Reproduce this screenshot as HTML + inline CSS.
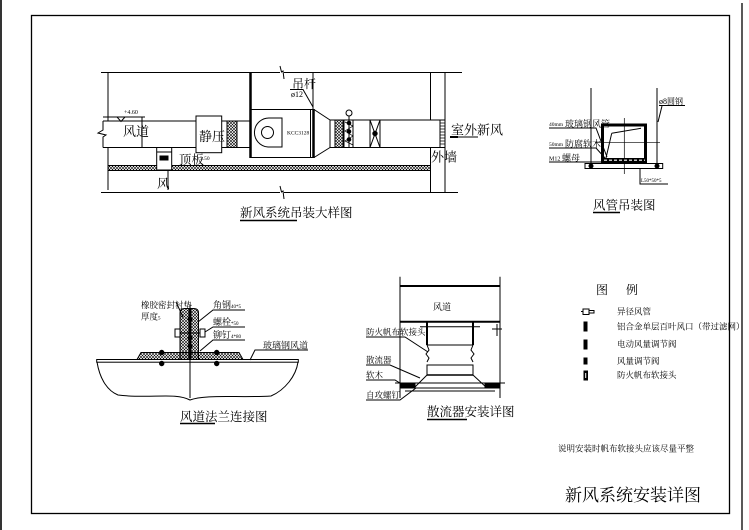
<!DOCTYPE html>
<html><head><meta charset="utf-8"><style>
html,body{margin:0;padding:0;background:#fff;}
svg{display:block;}
text{font-family:"Liberation Serif","Noto Serif CJK SC",serif;fill:#000;stroke:none;}
</style></head><body>
<svg width="749" height="530" viewBox="0 0 749 530" xmlns="http://www.w3.org/2000/svg">
<defs>
<pattern id="hx" width="3" height="3" patternUnits="userSpaceOnUse">
<path d="M0,0L3,3M3,0L0,3" stroke="#000" stroke-width="0.6"/>
</pattern>
</defs>
<rect x="0" y="0" width="749" height="530" fill="#fff"/>
<g stroke="#000" fill="none" stroke-width="1">
<!-- borders -->
<line x1="1" y1="0" x2="1" y2="530" stroke-width="1.6"/>
<rect x="31.5" y="15.5" width="698" height="498" stroke-width="1.3"/>
<line x1="742" y1="3" x2="742" y2="530" stroke-width="1.3"/>

<!-- ===== top-left: 新风系统吊装大样图 ===== -->
<path d="M101,72.5 H280 M284,72.5 H462"/>
<path d="M280,66 L281.5,72 L283,71 L284,79"/>
<path d="M101,192.5 H280 M284,192.5 H458"/>
<path d="M280,186 L281.5,192 L283,191 L284,199"/>
<path d="M108,72.5 V121 M108,147.5 V190"/>
<!-- left duct -->
<path d="M103,121 H196 M103,147.5 H196"/>
<path d="M103,121 V130 L98,133 L106,135 L103,137 V147.5"/>
<path d="M103,117 H145"/>
<polygon points="117,117 125,117 121,121.5" />
<line x1="142" y1="117" x2="142" y2="148"/>
<!-- static pressure box -->
<rect x="196" y="116" width="25.7" height="36.7"/>
<path d="M221.7,121 H250 M221.7,147.5 H250"/>
<rect x="227" y="121" width="10" height="26.5" fill="url(#hx)"/>
<line x1="250.5" y1="72.5" x2="250.5" y2="158" stroke-width="2.5"/>
<!-- fan box -->
<rect x="250.5" y="109.5" width="63" height="48"/>
<line x1="313" y1="72.5" x2="313" y2="109.5"/>
<line x1="313.5" y1="109" x2="313.5" y2="158" stroke-width="2.5"/>
<line x1="310.5" y1="109.5" x2="310.5" y2="157.5"/>
<path d="M282,118 V147 H268 A14.5,14.5 0 1 1 270,118 Z"/>
<circle cx="267.5" cy="132.5" r="6"/>
<!-- taper and right duct -->
<path d="M314,109.5 L330,120 M314,157.5 L330,147.5 M330,120 V147.5"/>
<path d="M330,120 H440 M330,147.5 H440"/>
<rect x="335" y="120" width="8" height="27.5" fill="url(#hx)"/>
<path d="M344,120 V147.5 M353,120 V147.5"/>
<path d="M349,120 V147.5"/>
<path d="M345,122 L353,126 L345,131 L353,136 L345,141 L353,145" stroke-width="0.7"/>
<circle cx="349" cy="123" r="1.8" fill="#000"/>
<circle cx="349" cy="131.5" r="1.8" fill="#000"/>
<circle cx="349" cy="139.5" r="1.8" fill="#000"/>
<circle cx="349" cy="113" r="3"/>
<line x1="349" y1="116" x2="349" y2="120"/>
<path d="M370,120 V147.5 M380,120 V147.5 M370,120 L380,147.5 M380,120 L370,147.5"/>
<circle cx="375" cy="133.5" r="2.2" fill="#000"/>
<!-- wall + grille -->
<path d="M430.5,72.5 V120 M430.5,147.5 V192.5"/>
<line x1="445" y1="72.5" x2="445" y2="192.5"/>
<rect x="440" y="120" width="5" height="27.5"/>
<path d="M440,123 H445 M440,126 H445 M440,129 H445 M440,132 H445 M440,135 H445 M440,138 H445 M440,141 H445 M440,144 H445" stroke-width="0.8"/>
<!-- slab -->
<rect x="108" y="165.5" width="322.5" height="5" fill="url(#hx)"/>
<!-- outlet -->
<rect x="156.7" y="147.5" width="15" height="22.5" fill="#fff"/>
<line x1="156.7" y1="152" x2="171.7" y2="152"/>
<rect x="160" y="156" width="8" height="4" fill="#000"/>
<line x1="168" y1="171" x2="168" y2="190"/>
<!-- hanger leader -->
<path d="M290,89.5 H303 L313,107"/>
<path d="M450,137 H478"/>
<line x1="450" y1="137" x2="458" y2="137" stroke-width="2"/>
<!-- title underline -->
<line x1="240" y1="220.5" x2="297" y2="220.5" stroke-width="1.5"/>

<!-- ===== top-right: 风管吊装图 ===== -->
<path d="M591,88 V167 M657,88 V167"/>
<rect x="585" y="163.5" width="77.7" height="5"/>
<circle cx="591" cy="166" r="2" fill="#000"/>
<circle cx="657" cy="166" r="2" fill="#000"/>
<line x1="595" y1="142.7" x2="660" y2="142.7" stroke-width="0.7"/>
<line x1="624.3" y1="118" x2="624.3" y2="174" stroke-width="0.7"/>
<rect x="602.5" y="125" width="43" height="37" stroke-width="3"/>
<rect x="602" y="158" width="44" height="4.5" fill="#000" stroke="none"/>
<line x1="604" y1="160.2" x2="645" y2="160.2" stroke="#fff" stroke-width="1.2" stroke-dasharray="3 2"/>
<path d="M611.7,133.3 L641,128.3 M611.7,133.3 L606,158"/>
<path d="M549,128 H596 L607,157"/>
<path d="M549,148 H596 L605,158"/>
<path d="M549,162 H602"/>
<path d="M659,105.5 H685 M662,106 L658,122"/>
<path d="M640,168 V184 H668"/>
<line x1="593" y1="212.5" x2="620" y2="212.5" stroke-width="1.5"/>

<!-- ===== bottom-left: 风道法兰连接图 ===== -->
<path d="M97,362 C100,380 108,391 118,395 C150,399 175,392 190,400 C205,394 240,398 271,396 C285,390 296,376 298,362"/>
<path d="M137,359.5 L141,352.5 H239 L243,359.5 Z" fill="url(#hx)"/>
<path d="M180,359.5 V313 Q180,308.5 184.5,308.5 H189 V359.5 Z" fill="url(#hx)"/>
<path d="M191,359.5 V308.5 H194 Q198.5,308.5 198.5,313 V359.5 Z" fill="url(#hx)"/>
<rect x="96.7" y="359.5" width="201.6" height="2.7" fill="#fff"/>
<line x1="190" y1="305" x2="190" y2="398"/>
<circle cx="190" cy="319" r="2" fill="#000"/>
<circle cx="190" cy="338" r="2" fill="#000"/>
<circle cx="190" cy="346" r="2" fill="#000"/>
<line x1="175" y1="333" x2="205" y2="333"/>
<rect x="175" y="329" width="5" height="8" fill="#fff"/>
<rect x="200" y="329" width="5" height="8" fill="#fff"/>
<circle cx="161.7" cy="352.5" r="2.2" fill="#000"/>
<circle cx="161.7" cy="363.5" r="2.2" fill="#000"/>
<circle cx="216.7" cy="352.5" r="2.2" fill="#000"/>
<circle cx="216.7" cy="363.5" r="2.2" fill="#000"/>
<path d="M176,302 L183,317"/>
<path d="M245,310 H213 L198,322"/>
<path d="M245,327 H213 L205,332"/>
<path d="M245,340 H213 L200,351"/>
<path d="M308,350 H255 L250,360"/>
<line x1="180" y1="423.5" x2="215" y2="423.5" stroke-width="1.5"/>

<!-- ===== bottom-middle: 散流器安装详图 ===== -->
<path d="M400,276.7 V398 M500,276.7 V398"/>
<line x1="400" y1="286" x2="500" y2="286" stroke-width="2"/>
<line x1="400" y1="321.7" x2="500" y2="321.7" stroke-width="2"/>
<path d="M427,322 V345 M473,322 V345" stroke-width="2"/>
<line x1="420" y1="326.7" x2="480" y2="326.7"/>
<line x1="427" y1="345" x2="473" y2="345"/>
<path d="M427,345 L429,350 L426,354 L429,358 L427,362"/>
<path d="M473,345 L471,350 L474,354 L471,358 L473,362"/>
<rect x="427" y="365" width="46" height="10"/>
<line x1="427" y1="375" x2="473" y2="375" stroke-width="1.5"/>
<path d="M427,375 L414,388 H487 L473,375"/>
<path d="M405,388 H495 M405,391 H495"/>
<line x1="395" y1="383" x2="505" y2="383"/>
<rect x="400" y="383" width="15" height="5" fill="#000"/>
<rect x="485" y="383" width="15" height="5" fill="#000"/>
<path d="M492,329 H502 M497,324 V336"/>
<path d="M366,337 H405 L428,352"/>
<path d="M366,365 H390 L420,378"/>
<path d="M366,380 H395 L403,385"/>
<path d="M366,400 H400 L416,388"/>
<line x1="427" y1="419.5" x2="467" y2="419.5" stroke-width="1.5"/>

<!-- ===== legend icons ===== -->
<path d="M581,311.5 H583 M583,309 H589 V314.5 H583 Z M589,310.5 H594 V313 H589"/>
<rect x="584" y="322" width="3" height="9" fill="#000"/>
<rect x="584" y="340" width="3" height="9" fill="#000"/>
<rect x="584" y="358" width="3" height="6" fill="#000"/>
<rect x="584" y="371" width="3.5" height="9" fill="#000"/>
<line x1="585.7" y1="373" x2="585.7" y2="378" stroke="#fff" stroke-width="1"/>
</g>

<!-- ===== texts ===== -->
<g>
<text x="124" y="114" font-size="6">+4.60</text>
<text x="123" y="136" font-size="13">风道</text>
<text x="199" y="141" font-size="13">静压</text>
<text x="287" y="134.5" font-size="5.5">KCC3128</text>
<text x="179" y="164" font-size="12.5">顶板</text>
<text x="200" y="160" font-size="5.5">3.50</text>
<text x="157" y="188" font-size="12.5">风</text>
<text x="292" y="88" font-size="12">吊杆</text>
<text x="291" y="97" font-size="8">ø12</text>
<text x="451" y="134.5" font-size="13">室外新风</text>
<text x="431" y="161.5" font-size="13">外墙</text>
<text x="240" y="217" font-size="12.5">新风系统吊装大样图</text>

<text x="549" y="126" font-size="5.5">40mm</text>
<text x="565" y="127" font-size="9">玻璃钢风管</text>
<text x="549" y="146" font-size="5.5">50mm</text>
<text x="565" y="147" font-size="9">防腐软木</text>
<text x="549" y="160.5" font-size="6">M12</text>
<text x="562" y="161" font-size="9">螺母</text>
<text x="659" y="104" font-size="8">ø8圆钢</text>
<text x="641" y="182" font-size="5">L50*50*5</text>
<text x="593" y="209.5" font-size="12.5">风管吊装图</text>

<text x="141" y="308" font-size="8.5">橡胶密封衬垫</text>
<text x="141" y="319.5" font-size="8.5">厚度<tspan font-size="5">5</tspan></text>
<text x="213" y="308" font-size="9">角钢<tspan font-size="5">40*5</tspan></text>
<text x="213" y="325" font-size="9">螺栓<tspan font-size="5">*50</tspan></text>
<text x="213" y="338" font-size="9">铆钉<tspan font-size="5">4*80</tspan></text>
<text x="263" y="348.5" font-size="9">玻璃钢风道</text>
<text x="180" y="421" font-size="12.5">风道法兰连接图</text>

<text x="433" y="310" font-size="9">风道</text>
<text x="366" y="335" font-size="8.5">防火帆布软接头</text>
<text x="366" y="363" font-size="8.5">散流器</text>
<text x="366" y="378" font-size="8.5">软木</text>
<text x="366" y="398" font-size="8.5">自攻螺钉</text>
<text x="427" y="416" font-size="12.5">散流器安装详图</text>

<text x="596" y="294" font-size="12">图</text>
<text x="626" y="294" font-size="12">例</text>
<text x="617" y="314.5" font-size="8.5">异径风管</text>
<text x="617" y="329.5" font-size="8.5">铝合金单层百叶风口（带过滤网）</text>
<text x="617" y="347" font-size="8.5">电动风量调节阀</text>
<text x="617" y="364" font-size="8.5">风量调节阀</text>
<text x="617" y="378" font-size="8.5">防火帆布软接头</text>

<text x="558" y="451.5" font-size="8.5">说明安装时帆布软接头应该尽量平整</text>
<text x="565" y="501" font-size="17">新风系统安装详图</text>
</g>
</svg>
</body></html>
